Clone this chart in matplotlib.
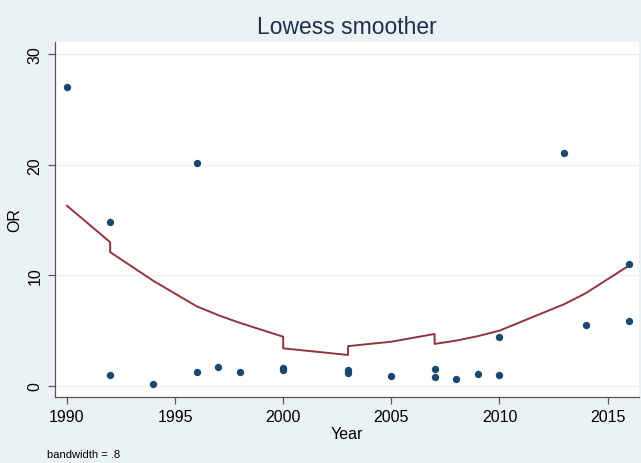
import matplotlib.pyplot as plt

plt.rcParams['font.family'] = ['Liberation Sans', 'DejaVu Sans']

# observed odds ratios by study year
year = [1990, 1992, 1992, 1994, 1996, 1996, 1997, 1998, 2000, 2000,
        2003, 2003, 2005, 2007, 2007, 2008, 2009, 2010, 2010,
        2013, 2014, 2016, 2016]
odds_ratio = [27.0, 14.8, 1.0, 0.2, 20.2, 1.3, 1.7, 1.25, 1.6, 1.4,
              1.4, 1.2, 0.9, 1.5, 0.8, 0.6, 1.1, 4.4, 1.0,
              21.1, 5.5, 11.0, 5.9]

# lowess fitted value for each observation (same order as above)
smooth = [16.3, 13.0, 12.1, 9.5, 7.2, 7.2, 6.4, 5.7, 4.45, 3.4,
          2.8, 3.6, 4.0, 4.7, 3.8, 4.1, 4.5, 5.0, 5.0,
          7.4, 8.4, 10.9, 10.9]

x_ticks = [1990, 1995, 2000, 2005, 2010, 2015]
y_ticks = [0, 10, 20, 30]

bg = '#EAF2F3'
navy = '#1A476F'
maroon = '#90353B'

fig = plt.figure(figsize=(6.41, 4.64), dpi=100, facecolor=bg)
ax = fig.add_axes([55 / 641, 1 - 398 / 464, 584 / 641, 355 / 464])
ax.set_facecolor('white')

ax.scatter(year, odds_ratio, s=28, color=navy, zorder=3, linewidths=0)
ax.plot(year, smooth, color=maroon, lw=1.4, zorder=2)

ax.set_xlim(1989.45, 2016.45)
ax.set_ylim(-1.0, 31.1)
ax.set_xticks(x_ticks)
ax.set_yticks(y_ticks)
ax.set_yticklabels([str(v) for v in y_ticks], rotation=90, va='center')
ax.grid(axis='y', color=bg, lw=1.0)
ax.set_axisbelow(True)

for side in ['top', 'right']:
    ax.spines[side].set_visible(False)
for side in ['left', 'bottom']:
    ax.spines[side].set_color('#555555')
    ax.spines[side].set_linewidth(0.9)
ax.tick_params(length=5, width=0.9, color='#555555', labelsize=11.5,
               labelcolor='black', pad=4)

ax.set_xlabel('Year', fontsize=11.5, labelpad=1)
ax.set_ylabel('OR', fontsize=11.5, labelpad=4)

fig.text(0.541, 1 - 27 / 464, 'Lowess smoother', ha='center', va='center',
         fontsize=16.5, color='#1E2F4F')
fig.text(47 / 641, 1 - 455 / 464, 'bandwidth = .8', ha='left', va='center',
         fontsize=8, color='black')

fig.savefig('out.png', dpi=100, facecolor=bg)
